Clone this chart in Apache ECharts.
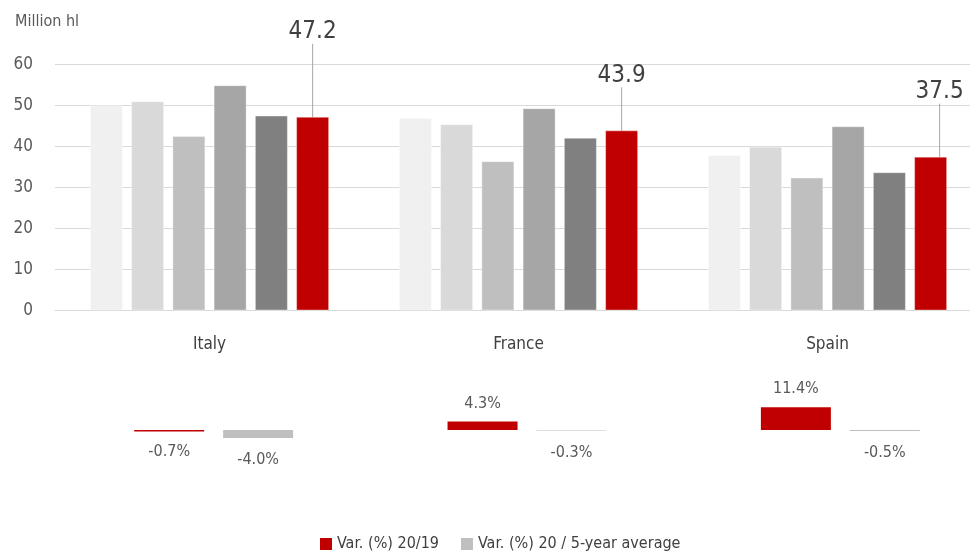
<!DOCTYPE html>
<html>
<head>
<meta charset="utf-8">
<script src="https://cdn.jsdelivr.net/npm/echarts@6/dist/echarts.min.js"></script>
<style>
html,body{margin:0;padding:0;background:#fff;overflow:hidden;}
#chart{width:1000px;height:552px;}
</style>
</head>
<body>
<div id="chart"></div>
<script>
// ---- data ----
var countries = ['Italy', 'France', 'Spain'];
var yearNames = ['2015', '2016', '2017', '2018', '2019', '2020'];
var v2015 = [50.0, 46.9, 37.9];
var v2016 = [51.0, 45.4, 39.9];
var v2017 = [42.5, 36.4, 32.4];
var v2018 = [54.9, 49.3, 44.9];
var v2019 = [47.5, 42.1, 33.7];
var v2020 = [47.2, 43.9, 37.5];
var var2019 = [-0.7, 4.3, 11.4];
var var5yAvg = [-4.0, -0.3, -0.5];
var yTicks = [0, 10, 20, 30, 40, 50, 60];
var legendNames = ['Var. (%) 20/19', 'Var. (%) 20 / 5-year average'];
var unitLabel = 'Million hl';

// ---- styling ----
var FONT = "'Liberation Sans Narrow', 'DejaVu Sans Condensed', 'Roboto', sans-serif";
var TXT = '#404040';
var colors = ['#f0f0f0', '#d9d9d9', '#bfbfbf', '#a6a6a6', '#808080', '#c00000'];
var labelShift = [[0, -68], [0, -38], [9, -48]];

var upperValues = [v2015, v2016, v2017, v2018, v2019, v2020];
var series = upperValues.map(function (vals, i) {
  var s = {
    name: yearNames[i],
    type: 'bar',
    xAxisIndex: 0,
    yAxisIndex: 0,
    barWidth: 33,
    barGap: '25%',
    data: vals,
    itemStyle: { color: colors[i], borderColor: 'rgba(255,255,255,0.35)', borderWidth: 1 },
    silent: true
  };
  if (i === 5) {
    s.label = {
      show: true,
      position: 'top',
      distance: 5,
      fontFamily: FONT,
      fontSize: 24,
      color: TXT,
      formatter: function (p) { return p.value.toFixed(1); }
    };
    s.labelLine = { show: true, lineStyle: { color: '#a6a6a6', width: 1 } };
    s.labelLayout = function (p) {
      var o = labelShift[p.dataIndex];
      return { dx: o[0], dy: o[1] };
    };
  }
  return s;
});

function pctLabel(p) { return p.value.toFixed(1) + '%'; }

series.push({
  name: legendNames[0],
  type: 'bar',
  xAxisIndex: 1,
  yAxisIndex: 1,
  barWidth: 70,
  barGap: '27%',
  data: var2019.map(function (v) {
    return { value: v, label: { position: v >= 0 ? 'top' : 'bottom', distance: v >= 0 ? 10 : 12 } };
  }),
  itemStyle: { color: '#c00000' },
  label: { show: true, fontFamily: FONT, fontSize: 16, color: '#595959', formatter: pctLabel }
});
series.push({
  name: legendNames[1],
  type: 'bar',
  xAxisIndex: 1,
  yAxisIndex: 1,
  barWidth: 70,
  barGap: '27%',
  data: var5yAvg.map(function (v) {
    return { value: v, label: { position: v >= 0 ? 'top' : 'bottom', distance: 14 } };
  }),
  itemStyle: { color: '#bfbfbf' },
  label: { show: true, fontFamily: FONT, fontSize: 16, color: '#595959', formatter: pctLabel }
});

var chart = echarts.init(document.getElementById('chart'), null, { renderer: 'canvas' });
chart.setOption({
  animation: false,
  backgroundColor: '#ffffff',
  textStyle: { fontFamily: FONT },
  title: {
    text: unitLabel,
    left: 10,
    top: 9,
    textStyle: { fontFamily: FONT, fontSize: 16, fontWeight: 'normal', color: '#595959' }
  },
  legend: {
    data: legendNames,
    left: 315,
    top: 531,
    icon: 'rect',
    itemWidth: 12,
    itemHeight: 12,
    itemGap: 22,
    textStyle: { fontFamily: FONT, fontSize: 16, color: TXT }
  },
  grid: [
    { left: 55, top: 64.3, width: 927, height: 246.2 },
    { left: 57, top: 390, width: 940, height: 60 }
  ],
  xAxis: [
    {
      type: 'category',
      gridIndex: 0,
      data: countries,
      axisLine: { lineStyle: { color: '#d9d9d9' } },
      axisTick: { show: false },
      axisLabel: { fontFamily: FONT, fontSize: 17, color: TXT, margin: 26 }
    },
    {
      type: 'category',
      gridIndex: 1,
      data: countries,
      axisLine: { show: false },
      axisTick: { show: false },
      axisLabel: { show: false }
    }
  ],
  yAxis: [
    {
      type: 'value',
      gridIndex: 0,
      min: yTicks[0],
      max: yTicks[yTicks.length - 1],
      interval: 10,
      axisLine: { show: false },
      axisTick: { show: false },
      splitLine: { lineStyle: { color: '#d9d9d9', width: 1 } },
      axisLabel: { fontFamily: FONT, fontSize: 17, color: '#595959', margin: 22 }
    },
    {
      type: 'value',
      gridIndex: 1,
      min: -10,
      max: 20,
      show: false,
      splitLine: { show: false }
    }
  ],
  series: series
});
</script>
</body>
</html>
